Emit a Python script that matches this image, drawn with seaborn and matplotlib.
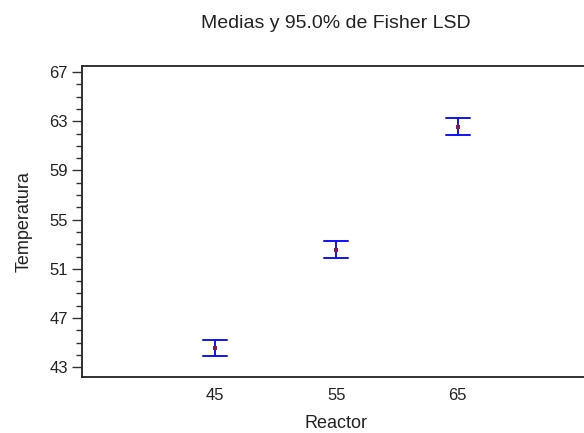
import matplotlib
matplotlib.use("Agg")
import matplotlib.pyplot as plt
from matplotlib.ticker import MultipleLocator
import seaborn as sns
import pandas as pd

# Mean temperature per reactor with 95% Fisher LSD intervals
reactor = [45, 55, 65]
mean_temp = [44.55, 52.55, 62.55]
lower = [43.87, 51.87, 61.87]
upper = [45.23, 53.23, 63.23]
yticks = [43, 47, 51, 55, 59, 63, 67]

sns.set_theme(style="white")
plt.rcParams["font.family"] = ["Liberation Sans", "DejaVu Sans"]

# long-form table: each reactor contributes its interval ends and its mean
rows = []
for r, lo, m, hi in zip(reactor, lower, mean_temp, upper):
    for v in (lo, m, hi):
        rows.append({"Reactor": r, "Temperatura": v})
df = pd.DataFrame(rows)
means = pd.DataFrame({"Reactor": reactor, "Temperatura": mean_temp})

fig = plt.figure(figsize=(5.84, 4.33), dpi=100)
ax = fig.add_axes([0.1404, 0.1293, 0.8596, 0.7183])

sns.pointplot(data=df, x="Reactor", y="Temperatura", native_scale=True,
              estimator="median", errorbar=("pi", 100), capsize=0.2,
              color="#1010ff", linestyle="none", marker="", err_kws={"linewidth": 1.4},
              ax=ax)
sns.scatterplot(data=means, x="Reactor", y="Temperatura", color="#8b1a4a",
                s=7, marker="s", linewidth=0, zorder=5, ax=ax)

ax.set_xlim(34.05, 75.4)
ax.set_ylim(42.2, 67.5)
ax.set_xticks(reactor)
ax.set_xticklabels([str(r) for r in reactor])
ax.set_yticks(yticks)
ax.set_yticklabels([str(t) for t in yticks])
ax.yaxis.set_minor_locator(MultipleLocator(1))

for side in ("left", "bottom", "top"):
    ax.spines[side].set_visible(True)
    ax.spines[side].set_color("#222222")
    ax.spines[side].set_linewidth(1.3)
ax.spines["right"].set_visible(False)

ax.tick_params(axis="y", which="major", left=True, direction="out",
               length=7, width=1, color="#333333", labelsize=12,
               labelcolor="#222222", pad=3)
ax.tick_params(axis="y", which="minor", left=True, direction="out",
               length=4, width=1, color="#333333")
ax.tick_params(axis="y", which="both", right=False)
ax.tick_params(axis="x", which="major", bottom=False, labelsize=12,
               labelcolor="#222222", pad=2)

ax.set_xlabel("Reactor", fontsize=13, color="#222222", va="center")
ax.set_ylabel("Temperatura", fontsize=13, color="#222222", va="center")
ax.xaxis.set_label_coords(0.506, -0.148)
ax.yaxis.set_label_coords(-0.115, 0.5)
fig.text(0.575, 0.945, "Medias y 95.0% de Fisher LSD", ha="center", va="center",
         fontsize=14, color="#222222")

fig.savefig("out.png", dpi=100)
